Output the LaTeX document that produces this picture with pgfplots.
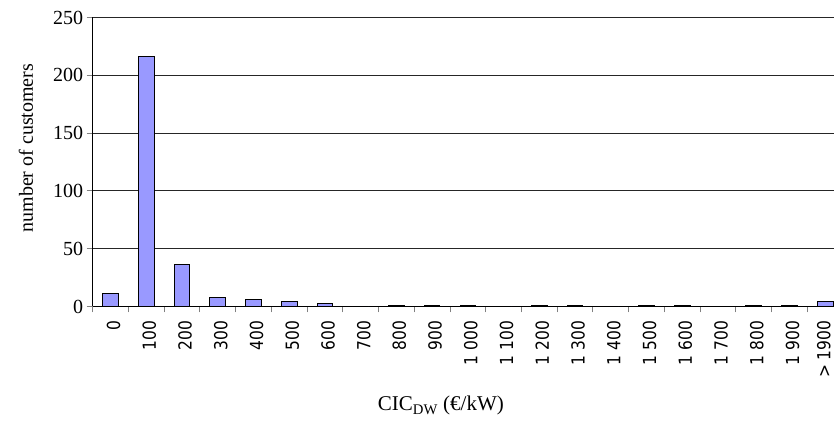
\documentclass[border=0pt]{standalone}
\usepackage{pgfplots}
\pgfplotsset{compat=1.18}
\usepackage{fontspec}
\setmainfont{Liberation Serif}
\newfontfamily\tickfont[FakeStretch=0.86]{DejaVu Sans}
\definecolor{barblue}{HTML}{9999FF}
\begin{document}
\begin{tikzpicture}
\clip (0,0) rectangle (834pt,425pt);
\begin{axis}[
  at={(92.7pt,118.5pt)}, anchor=south west,
  scale only axis,
  width=750.4pt, height=289pt,
  xmin=-0.5, xmax=20.5,
  ymin=0, ymax=250,
  axis x line=bottom, axis y line=left,
  axis line style={-, line width=1pt},
  ytick={0,50,...,250},
  ymajorgrids,
  major grid style={black!85, line width=0.9pt},
  xtick={0,...,20},
  xticklabels={0,100,200,300,400,500,600,700,800,900,1 000,1 100,1 200,1 300,1 400,1 500,1 600,1 700,1 800,1 900,\raisebox{9pt}{> 1900}},
  minor xtick={-0.5,0.5,...,20.5},
  major x tick style={draw=none},
  x tick style={line width=1pt},
  y tick style={line width=1pt},
  tick align=outside,
  major tick length=6pt,
  minor tick length=6pt,
  x tick label style={rotate=90, anchor=east, inner sep=1pt, font=\tickfont\fontsize{18}{18}\selectfont, xshift=-7pt, yshift=-3pt},
  y tick label style={font=\fontsize{20}{20}\selectfont},
  /pgf/number format/assume math mode=true,
  ylabel={number of customers},
  ylabel style={font=\fontsize{20}{20}\selectfont, at={(axis description cs:-0.0889,0.548)}, anchor=center},
  xlabel={CIC\textsubscript{DW} (€/kW)},
  xlabel style={font=\fontsize{21}{21}\selectfont, at={(axis description cs:0.464,-0.344)}, anchor=center},
  ybar, bar width=15.6pt,
  clip=false,
]
\addplot[fill=barblue, draw=black, line width=1pt] coordinates {
 (0,11) (1,216) (2,36) (3,8) (4,6) (5,4) (6,3) (7,0) (8,1) (9,1) (10,1)
 (11,0) (12,1) (13,0.5) (14,0) (15,0.5) (16,1) (17,0) (18,0.5) (19,0.5) (20,4)
};
\end{axis}
\end{tikzpicture}
\end{document}
